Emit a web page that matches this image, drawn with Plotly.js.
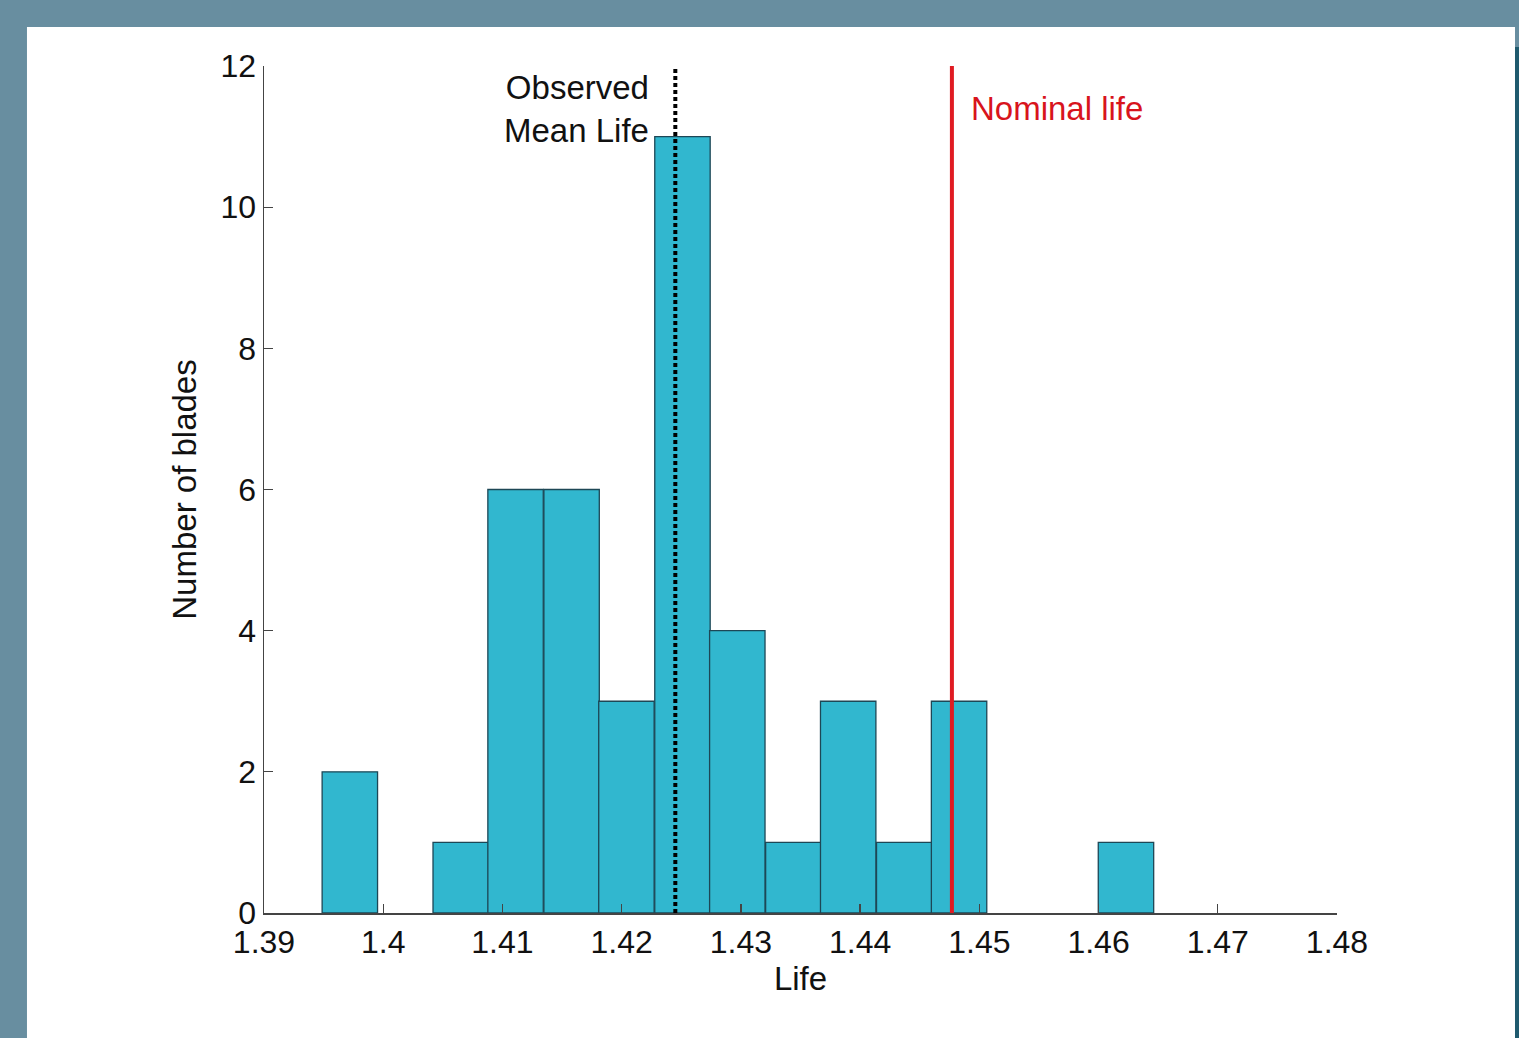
<!DOCTYPE html>
<html>
<head>
<meta charset="utf-8">
<script src="https://cdn.plot.ly/plotly-3.0.1.min.js"></script>
<style>
html,body{margin:0;padding:0;background:#688ea0;}
#chart{width:1519px;height:1038px;}
</style>
</head>
<body>
<div id="chart"></div>
<script>
// Histogram bins (centres) and counts
const binCenters = [1.3972, 1.4018, 1.4065, 1.4111, 1.4158, 1.4204, 1.4251, 1.4297, 1.4344, 1.4390, 1.4437, 1.4483, 1.4530, 1.4576, 1.4623];
const binWidth = 0.004648;
const counts = [2, 0, 1, 6, 6, 3, 11, 4, 1, 3, 1, 3, 0, 0, 1];
const meanLife = 1.4245;
const nominalLife = 1.4477;
const lineYRange = [0, 12];
const xTickVals = [1.39, 1.40, 1.41, 1.42, 1.43, 1.44, 1.45, 1.46, 1.47, 1.48];
const xTickText = ["1.39", "1.4", "1.41", "1.42", "1.43", "1.44", "1.45", "1.46", "1.47", "1.48"];
const yTickVals = [0, 2, 4, 6, 8, 10, 12];

const font = "Liberation Sans, Arial, sans-serif";

const traces = [
  {
    type: "bar",
    x: binCenters,
    y: counts,
    width: binCenters.map(() => binWidth),
    marker: {color: "#31b7cf", line: {color: "#1d4756", width: counts.map(c => c > 0 ? 1.3 : 0)}},
    hoverinfo: "x+y",
    showlegend: false
  },
  {
    type: "scatter", mode: "lines",
    x: [meanLife, meanLife], y: lineYRange,
    line: {color: "#000000", width: 4, dash: "4px,3px"},
    showlegend: false
  },
  {
    type: "scatter", mode: "lines",
    x: [nominalLife, nominalLife], y: lineYRange,
    line: {color: "#e01b22", width: 4},
    showlegend: false
  }
];

const layout = {
  width: 1519, height: 1038,
  margin: {l: 264, r: 182, t: 66, b: 125, pad: 0},
  paper_bgcolor: "#688ea0",
  plot_bgcolor: "rgba(0,0,0,0)",
  font: {family: font, size: 32, color: "#111111"},
  showlegend: false,
  bargap: 0,
  xaxis: {
    range: [1.39, 1.48],
    tickmode: "array", tickvals: xTickVals, ticktext: xTickText,
    ticks: "inside", ticklen: 9, tickwidth: 1.3, tickcolor: "#444",
    showline: true, linecolor: "#444", linewidth: 1.5,
    showgrid: false, zeroline: false,
    tickfont: {family: font, size: 32, color: "#111"},
    title: {text: "Life", font: {family: font, size: 33, color: "#111"}, standoff: 8}
  },
  yaxis: {
    range: [0, 12],
    tickmode: "array", tickvals: yTickVals,
    ticks: "inside", ticklen: 9, tickwidth: 1.3, tickcolor: "#444",
    showline: true, linecolor: "#444", linewidth: 1.5,
    showgrid: false, zeroline: false,
    tickfont: {family: font, size: 32, color: "#111"},
    title: {text: "Number of blades", font: {family: font, size: 33, color: "#111"}, standoff: 14}
  },
  shapes: [
    {type: "rect", xref: "paper", yref: "paper", layer: "below",
     x0: -0.2209, x1: 1.1659, y0: -0.2, y1: 1.0461,
     fillcolor: "#ffffff", line: {width: 0}},
    {type: "rect", xref: "paper", yref: "paper", layer: "below",
     x0: 1.1659, x1: 1.2, y0: -0.2, y1: 1.0225,
     fillcolor: "#1f5a6e", line: {width: 0}}
  ],
  annotations: [
    {xref: "x", yref: "y", x: meanLife, y: 11.39, xanchor: "right", yanchor: "middle",
     xshift: -24, align: "right",
     text: "Observed<br>Mean Life", showarrow: false,
     font: {family: font, size: 33, color: "#111"}},
    {xref: "x", yref: "y", x: nominalLife, y: 11.4, xanchor: "left", yanchor: "middle",
     xshift: 17,
     text: "Nominal life", showarrow: false,
     font: {family: font, size: 33, color: "#d8141c"}}
  ]
};

Plotly.newPlot("chart", traces, layout, {displayModeBar: false, staticPlot: true});
</script>
</body>
</html>
